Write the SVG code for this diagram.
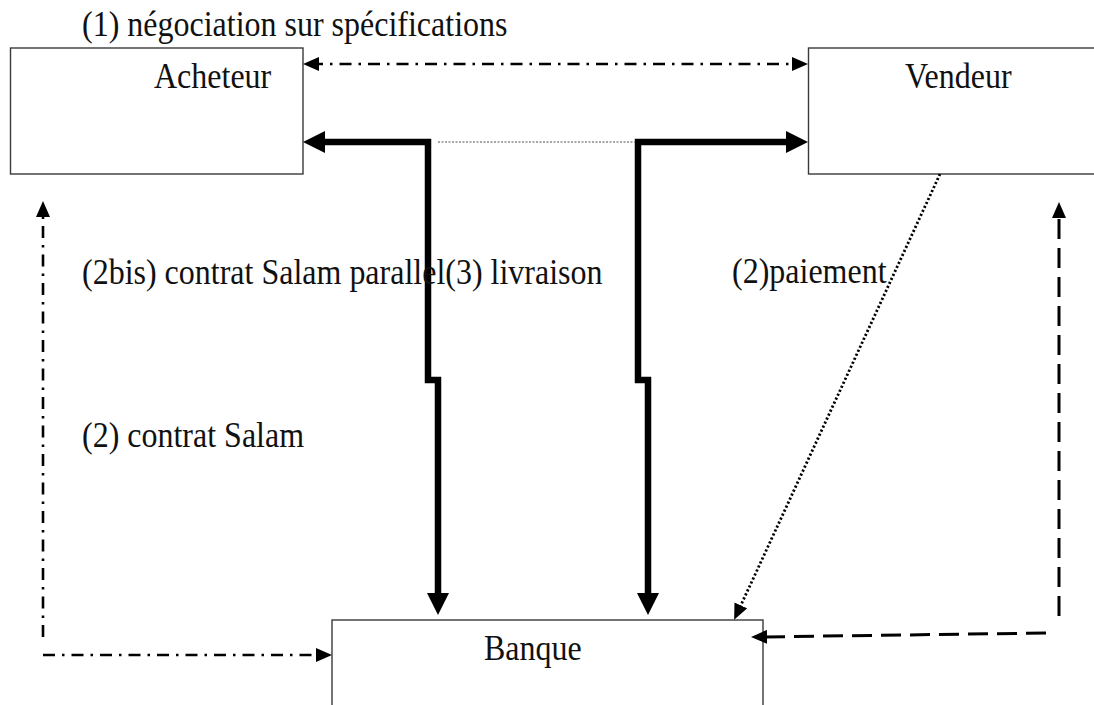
<svg xmlns="http://www.w3.org/2000/svg" width="1094" height="705" viewBox="0 0 1094 705">
  <style>
    .box { fill: #ffffff; stroke: #3a3a3a; stroke-width: 1.4; }
    .lbl { font-family: "Liberation Serif", "Times New Roman", serif; font-size: 32px; fill: #111111; }
    .thick { fill: none; stroke: #000000; stroke-width: 6.5; stroke-linejoin: miter; stroke-linecap: butt; }
    .dashdot { fill: none; stroke: #000000; stroke-width: 2.6; stroke-dasharray: 12 7 2.5 7; }
    .dashed { fill: none; stroke: #000000; stroke-width: 3; stroke-dasharray: 20 9; }
    .dotted { fill: none; stroke: #000000; stroke-width: 2.8; stroke-dasharray: 2.2 2.2; }
    .hair { fill: none; stroke: #8a8a8a; stroke-width: 1.4; stroke-dasharray: 2 1.5; }
  </style>
  <defs>
    <marker id="bigHead" markerUnits="userSpaceOnUse" viewBox="0 0 22 22" refX="7" refY="11" markerWidth="22" markerHeight="22" orient="auto-start-reverse">
      <path d="M0,0 L22,11 L0,22 Z" fill="#000000"/>
    </marker>
    <marker id="smallHead" markerUnits="userSpaceOnUse" viewBox="0 0 16 14" refX="8" refY="7" markerWidth="16" markerHeight="14" orient="auto-start-reverse">
      <path d="M0,0 L16,7 L0,14 Z" fill="#000000"/>
    </marker>
  </defs>

  <g id="acheteur">
    <rect class="box" x="10.5" y="48" width="292.5" height="126"/>
    <text class="lbl" transform="translate(154,88) scale(1,1.1)">Acheteur</text>
  </g>

  <g id="vendeur">
    <rect class="box" x="808.5" y="48" width="300" height="126"/>
    <text class="lbl" transform="translate(905,88) scale(1,1.1)">Vendeur</text>
  </g>

  <g id="banque">
    <rect class="box" x="332" y="620" width="431" height="120"/>
    <text class="lbl" transform="translate(484,660) scale(1,1.1)">Banque</text>
  </g>

  <g id="connectors">
    <!-- (1) negotiation, both directions -->
    <path class="dashdot" d="M311,64 H800" marker-start="url(#smallHead)" marker-end="url(#smallHead)"/>
    <!-- delivery links between the parties and the bank -->
    <path class="thick" d="M318,142 H428 V380 H438 V600" marker-start="url(#bigHead)" marker-end="url(#bigHead)"/>
    <path class="thick" d="M793,142 H638 V380 H648 V600" marker-start="url(#bigHead)" marker-end="url(#bigHead)"/>
    <path class="hair" d="M438,142 H635"/>
    <!-- (2) Salam contract, buyer side -->
    <path class="dashdot" d="M43,637 V209" marker-end="url(#smallHead)"/>
    <path class="dashdot" d="M43,655 H324" marker-end="url(#smallHead)"/>
    <!-- (2) payment -->
    <path class="dotted" d="M940,174 L737.5,612.6" marker-end="url(#smallHead)"/>
    <!-- seller side return -->
    <path class="dashed" d="M1059,616 V210" marker-end="url(#smallHead)"/>
    <path class="dashed" d="M1046,633 L759,637" marker-end="url(#smallHead)"/>
  </g>

  <g id="labels">
    <text class="lbl" transform="translate(82,36) scale(1,1.1)">(1) négociation sur spécifications</text>
    <text class="lbl" transform="translate(82,284) scale(1,1.1)">(2bis) contrat Salam parallel(3) livraison</text>
    <text class="lbl" transform="translate(732,283) scale(1,1.1)">(2)paiement</text>
    <text class="lbl" transform="translate(82,447) scale(1,1.1)">(2) contrat Salam</text>
  </g>
</svg>
